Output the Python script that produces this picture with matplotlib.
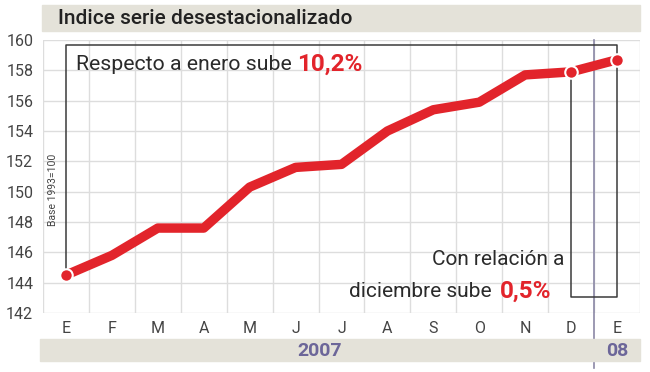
import matplotlib
matplotlib.use("Agg")
import matplotlib.pyplot as plt
from matplotlib.patches import Rectangle

plt.rcParams['font.family'] = ['Roboto', 'DejaVu Sans']

# data
months = ["E", "F", "M", "A", "M", "J", "J", "A", "S", "O", "N", "D", "E"]
values = [144.5, 145.8, 147.6, 147.6, 150.3, 151.6, 151.8, 154.0, 155.4, 155.9, 157.7, 157.9, 158.7]
yticks = [142, 144, 146, 148, 150, 152, 154, 156, 158, 160]
title = "Indice serie desestacionalizado"
years = ["2007", "08"]

RED = "#e2242b"
BAND = "#e4e2d9"
GRID = "#dddddd"
DARK = "#3a3a3a"
PURPLE = "#6c6699"

W, H = 650, 372
fig = plt.figure(figsize=(W / 100, H / 100), dpi=100)
fig.patch.set_facecolor("white")

def fx(px):
    return px / W

def fy(py):
    return 1 - py / H

# title band and year band
fig.patches.append(Rectangle((fx(42), fy(31)), fx(640) - fx(42), fy(5) - fy(31),
                             transform=fig.transFigure, color=BAND, zorder=0))
fig.patches.append(Rectangle((fx(40), fy(361)), fx(640) - fx(40), fy(339) - fy(361),
                             transform=fig.transFigure, color=BAND, zorder=0))
fig.text(fx(58), fy(18), title, fontsize=15, color="#222222", va="center", ha="left",
         fontweight="medium")

ax = fig.add_axes([fx(43), fy(313), fx(640) - fx(43), fy(40) - fy(313)])
x = list(range(len(months)))
ax.set_xlim(-0.5, len(months) - 0.5)
ax.set_ylim(yticks[0], yticks[-1])

# grid between months
for g in range(len(months) + 1):
    ax.axvline(g - 0.5, color=GRID, lw=1, zorder=1)
for t in yticks:
    ax.axhline(t, color=GRID, lw=1, zorder=1)
for s in ax.spines.values():
    s.set_visible(False)

ax.set_xticks(x)
ax.set_xticklabels(months)
ax.set_yticks(yticks)
ax.tick_params(length=0, labelsize=11.5, colors="#444444", pad=6)
ax.tick_params(axis="y", pad=7)

# separator 2007 / 08
sep = len(months) - 1.5
ax.plot([sep, sep], [1, -0.2], transform=ax.get_xaxis_transform(), color="#8b88a6",
        lw=1.2, clip_on=False, zorder=2)
fig.text(fx(320), fy(351), years[0], fontsize=14, color=PURPLE, ha="center", va="center",
         fontweight="bold")
fig.text(fx(617), fy(351), years[1], fontsize=14, color=PURPLE, ha="center", va="center",
         fontweight="bold")

# brackets
top = 159.65
bottom = 143.05
ax.plot([x[0], x[0], x[-1], x[-1]], [values[0], top, top, values[-1]], color=DARK, lw=1.1, zorder=3)
ax.plot([x[-2], x[-2], x[-1], x[-1]], [values[-2], bottom, bottom, values[-1]], color=DARK, lw=1.1, zorder=3)

# series
ax.plot(x, values, color=RED, lw=6.8, solid_capstyle="round", solid_joinstyle="round", zorder=4)
for i in (0, len(values) - 2, len(values) - 1):
    ax.plot(x[i], values[i], "o", ms=9, color=RED, mec="white", mew=1.5, zorder=5)

# annotations
ax.text(0.22, 158.4, "Respecto a enero sube", fontsize=15.3, color="#2a2a2a", va="center", ha="left")
ax.text(5.03, 158.4, "10,2%", fontsize=17.5, color=RED, va="center", ha="left", fontweight="bold")
ax.text(10.85, 145.5, "Con relación a", fontsize=15, color="#2a2a2a", va="center", ha="right")
ax.text(9.26, 143.4, "diciembre sube", fontsize=15, color="#2a2a2a", va="center", ha="right")
ax.text(9.44, 143.4, "0,5%", fontsize=17.5, color=RED, va="center", ha="left", fontweight="bold")
ax.text(-0.28, 150.1, "Base 1993=100", fontsize=7.5, color="#444444", rotation=90, va="center", ha="center")

fig.savefig("out.png", dpi=100)
